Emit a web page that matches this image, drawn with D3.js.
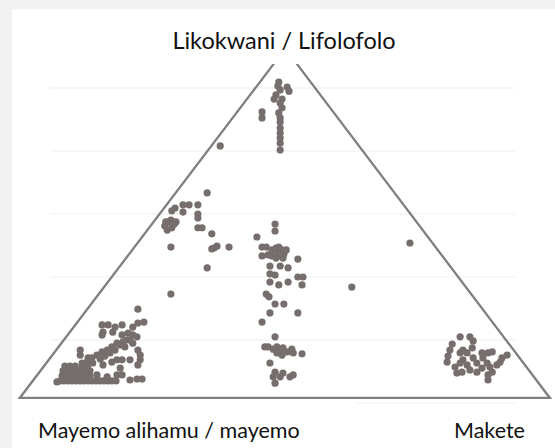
<!DOCTYPE html>
<html>
<head>
<meta charset="utf-8">
<title>Ternary</title>
<script src="https://d3js.org/d3.v7.min.js"></script>
<style>
body { margin: 0; background: #f2f2f2; }
text { font-family: Lato, "Open Sans", sans-serif; fill: #111; }
</style>
</head>
<body>
<div id="chart"></div>
<script>
// corner labels: top, bottom left, bottom right
var corners = ["Likokwani / Lifolofolo", "Mayemo alihamu / mayemo", "Makete"];
// triangle corners in chart units (left, right, top)
var triX = [-6.5, 107.5, 50.6];
var triY = [1.6, 1.6, 112.5];
// horizontal gridlines
var gridY = [0, 20, 40, 60, 80, 100];

// households, [x, y] in chart units
var nearLifolofolo = [
  [49.2,101.9],[49.0,100.6],[51.0,100.3],[51.4,99.0],[49.5,99.4],[48.6,97.8],[49.9,96.5],[48.2,96.5],
  [49.5,95.2],[49.9,93.7],[49.2,92.1],[49.5,90.5],[49.5,89.2],[49.5,87.3],[49.5,85.7],[49.5,84.1],
  [49.5,82.5],[49.5,80.3],[45.6,92.4],[45.6,90.5],[36.6,81.6]
];
var upperLeft = [
  [33.8,66.7],[26.2,61.0],[26.9,61.9],[28.6,62.9],[29.9,62.9],[31.8,62.9],[28.6,60.6],[31.8,60.0],
  [31.8,58.7],[31.8,55.6],[32.7,55.6],[24.7,56.2],[25.4,57.5],[26.0,58.1],[26.7,56.8],[25.2,54.9],
  [26.2,55.6],[27.1,57.5],[24.9,57.5],[26.0,49.5],[34.8,53.7],[34.8,48.9],[35.3,49.2],[35.9,49.8],
  [38.5,49.5],[33.8,42.9],[26.0,34.6]
];
var middle = [
  [48.4,56.8],[48.4,54.6],[44.5,52.7],[45.6,49.5],[46.5,49.5],[47.7,48.6],[48.6,49.2],[49.2,49.5],
  [49.9,48.6],[50.3,47.3],[49.5,46.7],[48.6,46.0],[47.7,46.7],[49.0,47.9],[50.1,46.0],[46.9,47.0],
  [50.8,48.6],[45.6,46.7],[47.3,43.5],[49.5,43.5],[51.2,42.9],[53.3,45.7],[47.3,41.0],[48.4,40.6],
  [47.3,38.4],[49.2,37.5],[51.2,38.4],[53.3,40.0],[54.4,40.0],[54.2,37.5],[46.5,34.6],[47.1,33.7],
  [48.4,31.4],[50.3,31.4],[47.3,28.6],[53.3,28.6],[45.6,25.7],[64.9,36.8],[77.4,50.8],
  [48.4,21.0],[46.2,17.8],[46.9,17.8],[48.0,17.1],[48.8,17.8],[49.5,16.8],[50.1,17.5],[51.0,16.2],
  [52.0,17.1],[52.3,15.9],[54.2,15.6],[49.9,15.2],[48.8,15.9],[47.3,12.7],[48.4,9.8],[48.0,8.3],
  [49.5,8.3],[50.1,9.5],[51.6,8.3],[52.3,8.9],[48.4,6.3]
];
var nearMakete = [
  [88.2,21.0],[90.3,21.0],[91.0,19.7],[86.5,18.7],[86.0,16.8],[85.6,14.9],[85.4,13.0],[88.2,15.9],
  [88.8,16.8],[89.7,15.9],[88.8,13.7],[88.2,12.7],[87.1,11.4],[89.7,12.1],[91.0,14.3],[91.8,12.7],
  [92.9,15.9],[93.1,14.3],[94.2,15.9],[95.1,16.2],[94.0,12.7],[94.6,11.4],[92.9,11.1],[91.8,9.8],
  [88.6,9.8],[87.5,9.5],[95.1,9.8],[94.2,8.9],[94.2,7.3],[96.1,12.1],[96.8,13.0],[97.2,14.3],
  [98.3,15.2],[90.3,10.5],[90.8,17.5]
];
var nearMayemo = [
  [18.9,29.8],[20.2,25.7],[18.9,25.4],[17.8,24.1],[11.2,24.8],[12.5,24.8],[14.0,24.1],[15.5,24.8],
  [11.4,22.5],[13.5,22.5],[11.2,21.6],[15.5,21.6],[17.8,21.6],[16.8,22.2],
  [18.7,21.0],[17.2,20.0],[15.7,19.4],[14.4,19.0],[13.3,17.8],[12.3,16.8],[11.2,16.2],[10.1,15.2],
  [9.0,14.3],[8.0,13.0],[6.9,12.7],[6.5,16.8],[6.5,15.2],[15.1,18.4],[14.0,16.8],[12.9,15.9],
  [11.8,14.9],[10.8,14.0],[16.1,17.8],[16.6,20.0],[17.8,19.0],
  [18.9,16.8],[19.4,15.2],[19.4,13.7],[18.9,12.1],[17.2,13.7],[15.5,13.7],[15.1,11.1],[15.5,8.9],
  [17.2,7.3],[18.7,7.6],[19.8,7.6],
  [2.2,7.0],[3.0,7.0],[3.9,7.0],[4.7,7.0],[5.6,7.0],[6.5,7.0],[7.3,7.0],[8.2,7.0],[9.0,7.0],
  [9.9,7.0],[10.8,7.0],[11.6,7.0],[12.5,7.0],[13.3,7.0],[14.2,7.0],
  [2.6,8.6],[3.4,8.6],[4.3,8.6],[5.2,8.6],[6.0,8.6],[6.9,8.6],[7.7,8.6],[8.6,8.6],
  [2.8,10.2],[3.7,10.2],[4.7,10.2],[5.6,10.2],[6.5,10.2],[7.5,10.2],[8.6,10.2],
  [3.2,11.7],[4.3,11.7],[5.4,11.7],[6.9,11.7],[8.0,11.7],
  [1.5,6.7],[9.2,12.7],[11.4,12.1],[13.3,13.0],[14.4,13.7],
  [10.1,8.9],[12.3,8.3],[14.4,8.9],[8.2,14.3],[7.5,11.4]
];

var W = 555, H = 448;
var svg = d3.select("#chart").append("svg")
  .attr("width", W).attr("height", H);

var x = d3.scaleLinear().domain([0, 100]).range([50, 515]);
var y = d3.scaleLinear().domain([0, 120]).range([403, 25]);

svg.append("rect").attr("x", 12).attr("y", 9)
  .attr("width", W - 12).attr("height", H - 9).attr("fill", "#fff");

svg.selectAll("line.grid").data(gridY).enter()
  .append("line")
    .attr("class", "grid")
    .attr("x1", x(0)).attr("x2", x(100))
    .attr("y1", d => y(d)).attr("y2", d => y(d))
    .attr("stroke", "#efefef").attr("stroke-width", 1);

var tri = triX.map((d, i) => [x(d), y(triY[i])]);
svg.append("path")
  .attr("d", d3.line()(tri) + "Z")
  .attr("fill", "none")
  .attr("stroke", "#7f7f7f")
  .attr("stroke-width", 2.3)
  .attr("stroke-linejoin", "miter");

var all = [].concat(nearLifolofolo, upperLeft, middle, nearMakete, nearMayemo);
svg.selectAll("circle").data(all).enter()
  .append("circle")
    .attr("cx", d => x(d[0]))
    .attr("cy", d => y(d[1]))
    .attr("r", 3.6)
    .attr("fill", "#766e6c");

// label boxes (white, they hide what is under them)
svg.append("rect").attr("x", 140).attr("y", 12).attr("width", 290).attr("height", 52).attr("fill", "#fff");
svg.append("rect").attr("x", 22).attr("y", 401).attr("width", 335).attr("height", 47).attr("fill", "#fff");

svg.append("text").attr("x", 284).attr("y", 49)
  .attr("text-anchor", "middle").attr("font-size", 23.5).text(corners[0]);
svg.append("text").attr("x", 38).attr("y", 438)
  .attr("font-size", 21.5).text(corners[1]);
svg.append("text").attr("x", 454).attr("y", 438)
  .attr("font-size", 21.5).text(corners[2]);
</script>
</body>
</html>
